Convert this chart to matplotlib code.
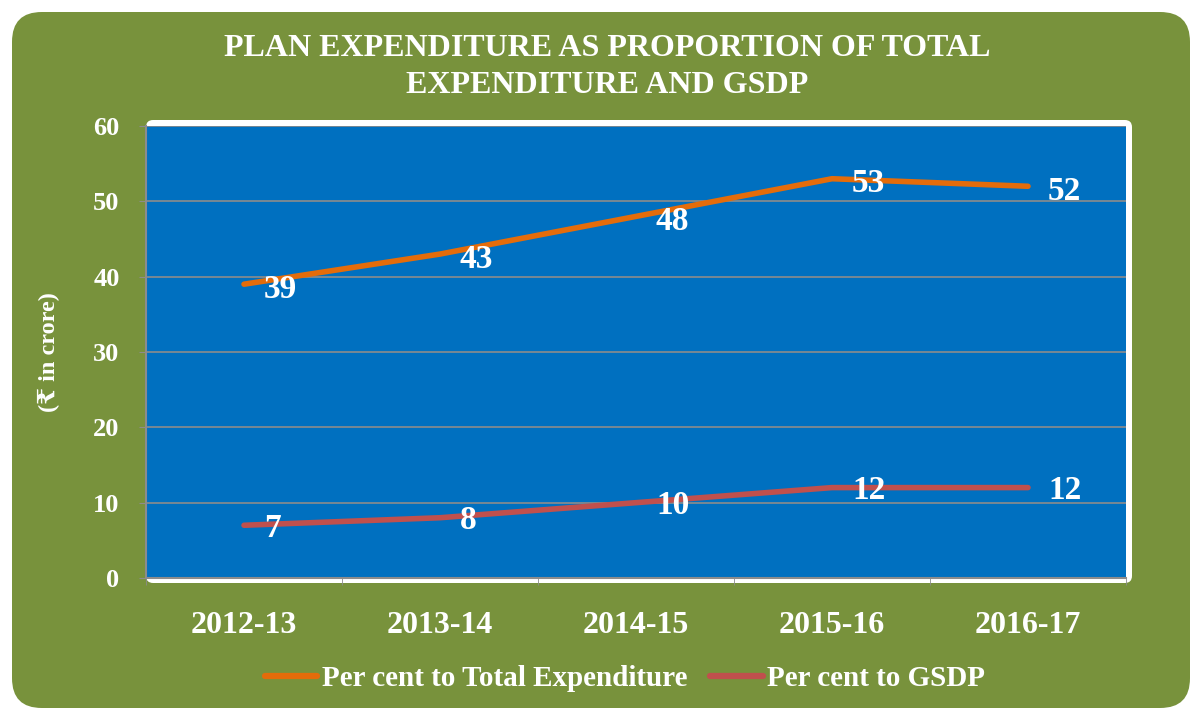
import matplotlib.pyplot as plt
from matplotlib.patches import FancyBboxPatch
from matplotlib.lines import Line2D

years = ['2012-13', '2013-14', '2014-15', '2015-16', '2016-17']
total_exp = [39, 43, 48, 53, 52]
gsdp = [7, 8, 10, 12, 12]

GREEN = '#78923C'
BLUE = '#0070C0'
ORANGE = '#E46C0A'
RED = '#C0504D'
GRID = '#8C8C8C'
serif = ['Liberation Serif', 'DejaVu Serif', 'DejaVu Sans']

W, H = 1192, 711
fig = plt.figure(figsize=(W / 100, H / 100), dpi=100)
fig.patch.set_facecolor('white')

# olive background with rounded corners (pixels 12..1190 x 12..708 from top)
bg = FancyBboxPatch((12 / W, 3 / H), (1190 - 12) / W, (708 - 12) / H,
                    boxstyle='round,pad=0,rounding_size=0.025',
                    transform=fig.transFigure, facecolor=GREEN, edgecolor='none',
                    mutation_aspect=W / H, zorder=0)
fig.patches.append(bg)

# white frame around plot area
frame = FancyBboxPatch((146 / W, 1 - 583 / H), (1132 - 146) / W, (583 - 120) / H,
                       boxstyle='round,pad=0,rounding_size=0.006',
                       transform=fig.transFigure, facecolor='white', edgecolor='none',
                       mutation_aspect=W / H, zorder=1)
fig.patches.append(frame)

ax = fig.add_axes([146 / W, 1 - 578 / H, (1126 - 146) / W, (578 - 126) / H])
ax.set_zorder(2)
ax.set_facecolor(BLUE)

x = list(range(len(years)))
ax.plot(x, total_exp, color=ORANGE, lw=4, solid_capstyle='round', zorder=3)
ax.plot(x, gsdp, color=RED, lw=4, solid_capstyle='round', zorder=3)

for xi, v in zip(x, total_exp):
    ax.annotate(str(v), (xi, v), xytext=(20, -5), textcoords='offset pixels',
                ha='left', va='center', color='white', fontsize=24,
                fontweight='bold', family=serif, zorder=4)
for xi, v in zip(x, gsdp):
    ax.annotate(str(v), (xi, v), xytext=(20, -3), textcoords='offset pixels',
                ha='left', va='center', color='white', fontsize=24,
                fontweight='bold', family=serif, zorder=4)

ax.set_xlim(-0.5, 4.5)
ax.set_ylim(0, 60)
ax.set_yticks(range(0, 61, 10))
ax.set_xticks(x)
ax.set_xticklabels(years)
ax.set_xticks([i + 0.5 for i in range(-1, 5)], minor=True)
ax.tick_params(axis='x', which='major', length=0, pad=24)
ax.tick_params(axis='x', which='minor', length=5, color=GRID, direction='out')
ax.tick_params(axis='y', length=5, color=GRID, pad=14)
for lab in ax.get_xticklabels() + ax.get_yticklabels():
    lab.set_family(serif)
    lab.set_fontweight('bold')
    lab.set_color('white')
for lab in ax.get_xticklabels():
    lab.set_fontsize(23)
for lab in ax.get_yticklabels():
    lab.set_fontsize(19)

ax.grid(axis='y', color=GRID, lw=1.2)
ax.set_axisbelow(True)
for s in ['top', 'right']:
    ax.spines[s].set_visible(False)
for s in ['left', 'bottom']:
    ax.spines[s].set_color(GRID)
    ax.spines[s].set_linewidth(1.5)

ax.set_ylabel('(\u20b9 in crore)', color='white', fontsize=17.5, fontweight='bold',
              family=serif)
ax.yaxis.set_label_coords(-86 / (1126 - 146), 0.5)

fig.text(607 / W, 1 - 67 / H,
         'PLAN EXPENDITURE AS PROPORTION OF TOTAL\nEXPENDITURE AND GSDP',
         ha='center', va='center', color='white', fontsize=23, fontweight='bold',
         family=serif, linespacing=1.35)

handles = [Line2D([], [], color=ORANGE, lw=4.5, solid_capstyle='round'),
           Line2D([], [], color=RED, lw=4.5, solid_capstyle='round')]
leg = fig.legend(handles, ['Per cent to Total Expenditure', 'Per cent to GSDP'],
                 loc='center', bbox_to_anchor=(625 / W, 1 - 679 / H), ncol=2,
                 frameon=False, handlelength=1.8, handletextpad=0.15,
                 columnspacing=0.8,
                 prop={'family': serif, 'weight': 'bold', 'size': 21})
for t in leg.get_texts():
    t.set_color('white')

fig.savefig('out.png', dpi=100, facecolor='white')
